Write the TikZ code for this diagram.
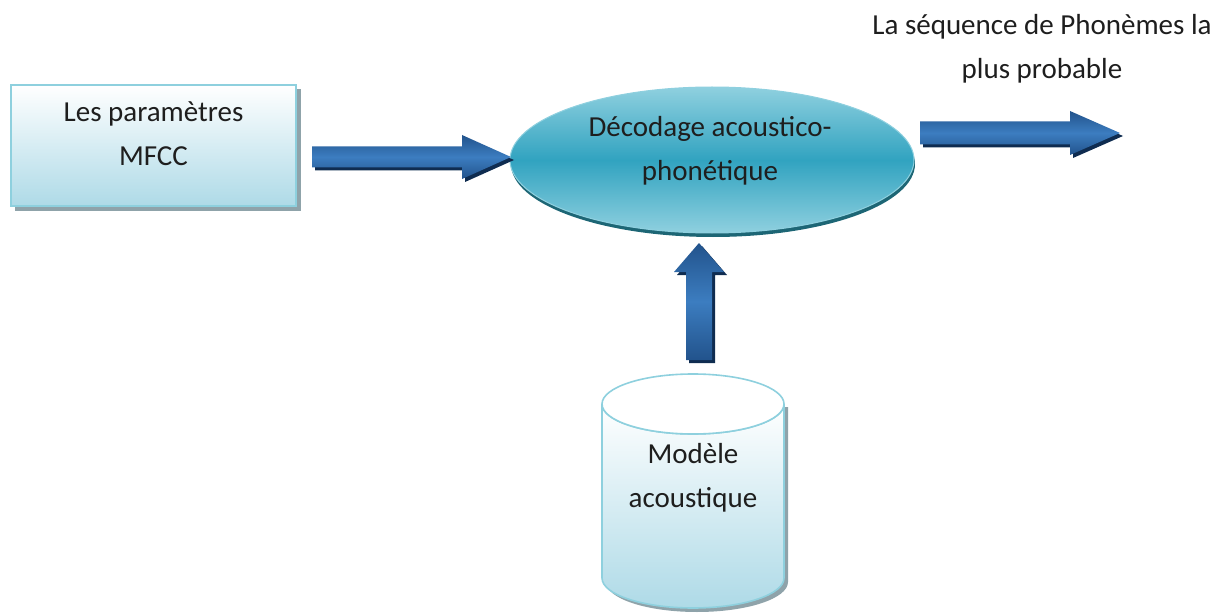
\documentclass[tikz,border=0pt]{standalone}
\usepackage{fontspec}
\setmainfont{Carlito}
\usetikzlibrary{shapes.geometric,calc}
\definecolor{txt}{HTML}{1E1E1E}
\definecolor{boxline}{HTML}{8ED0DE}
\definecolor{boxbot}{HTML}{AEDAE7}
\definecolor{boxshadow}{HTML}{8FA3AA}
\definecolor{ellmid}{HTML}{31A3C0}
\definecolor{elledge}{HTML}{8FD0DF}
\definecolor{ellshadow}{HTML}{1D6675}
\definecolor{arrdark}{HTML}{22538C}
\definecolor{arrlight}{HTML}{3C7DC0}
\definecolor{arrshadow}{HTML}{0F2C50}
\newcommand\blockarr[7]{%
  \begin{scope}[shift={(#1+3,#2+3)},rotate=#3]
    \fill[arrshadow] (0,-#5) -- (#4-#7,-#5) -- (#4-#7,-#6) -- (#4,0) -- (#4-#7,#6) -- (#4-#7,#5) -- (0,#5) -- cycle;
  \end{scope}
  \begin{scope}[shift={(#1,#2)},rotate=#3]
    \shade[top color=arrdark,bottom color=arrdark,middle color=arrlight] (0,-#5) -- (#4-#7,-#5) -- (#4-#7,-#6) -- (#4,0) -- (#4-#7,#6) -- (#4-#7,#5) -- (0,#5) -- cycle;
  \end{scope}}
\tikzset{
  lbl/.style={text=txt,font=\fontsize{29}{44}\selectfont,align=center},
  mfccbox/.style={rectangle,draw=boxline,line width=2.2pt,top color=white,bottom color=boxbot,minimum width=285pt,minimum height=121pt,inner sep=0pt},
  decell/.style={ellipse,draw=elledge,line width=1pt,top color=elledge,bottom color=elledge,middle color=ellmid,minimum width=404pt,minimum height=146pt,inner sep=0pt}
}
\begin{document}
\begin{tikzpicture}[x=1pt,y=-1pt]
\useasboundingbox (0,0) rectangle (1227,615);
% box with shadow
\fill[boxshadow] (15,89) rectangle (301,211);
\node[mfccbox] (mfcc) at (153.5,145.5) {};
\node[lbl] (mfcct) at (153.5,134) {Les paramètres\\MFCC};
% ellipse with shadow
\fill[ellshadow] (713,164) ellipse [x radius=202pt,y radius=73pt];
\node[decell] (dec) at (712,160) {};
\node[lbl] (dect) at (710,151) {Décodage acoustico-\\phonétique};
% cylinder
\fill[boxshadow] (606,407) -- (606,582) arc[start angle=180,end angle=360,x radius=91pt,y radius=30pt] -- (788,407) -- cycle;
\shade[top color=white,bottom color=boxbot,draw=boxline,line width=1.6pt] (602,404) -- (602,578) arc[start angle=180,end angle=360,x radius=91pt,y radius=30pt] -- (784,404) arc[start angle=360,end angle=180,x radius=91pt,y radius=30pt] -- cycle;
\draw[boxline,line width=1.6pt,fill=white] (693,404) ellipse [x radius=91pt,y radius=30pt];
\node[lbl] (mod) at (693,478) {Modèle\\acoustique};
% output text
\node[lbl] (out) at (1042,49) {La séquence de Phonèmes la\\plus probable};
% arrows
\blockarr{312}{157}{0}{199}{10.5}{22}{49}
\blockarr{920}{133}{0}{200}{11.5}{22}{50}
\blockarr{699}{360}{90}{117}{13}{25}{29}
\end{tikzpicture}
\end{document}
